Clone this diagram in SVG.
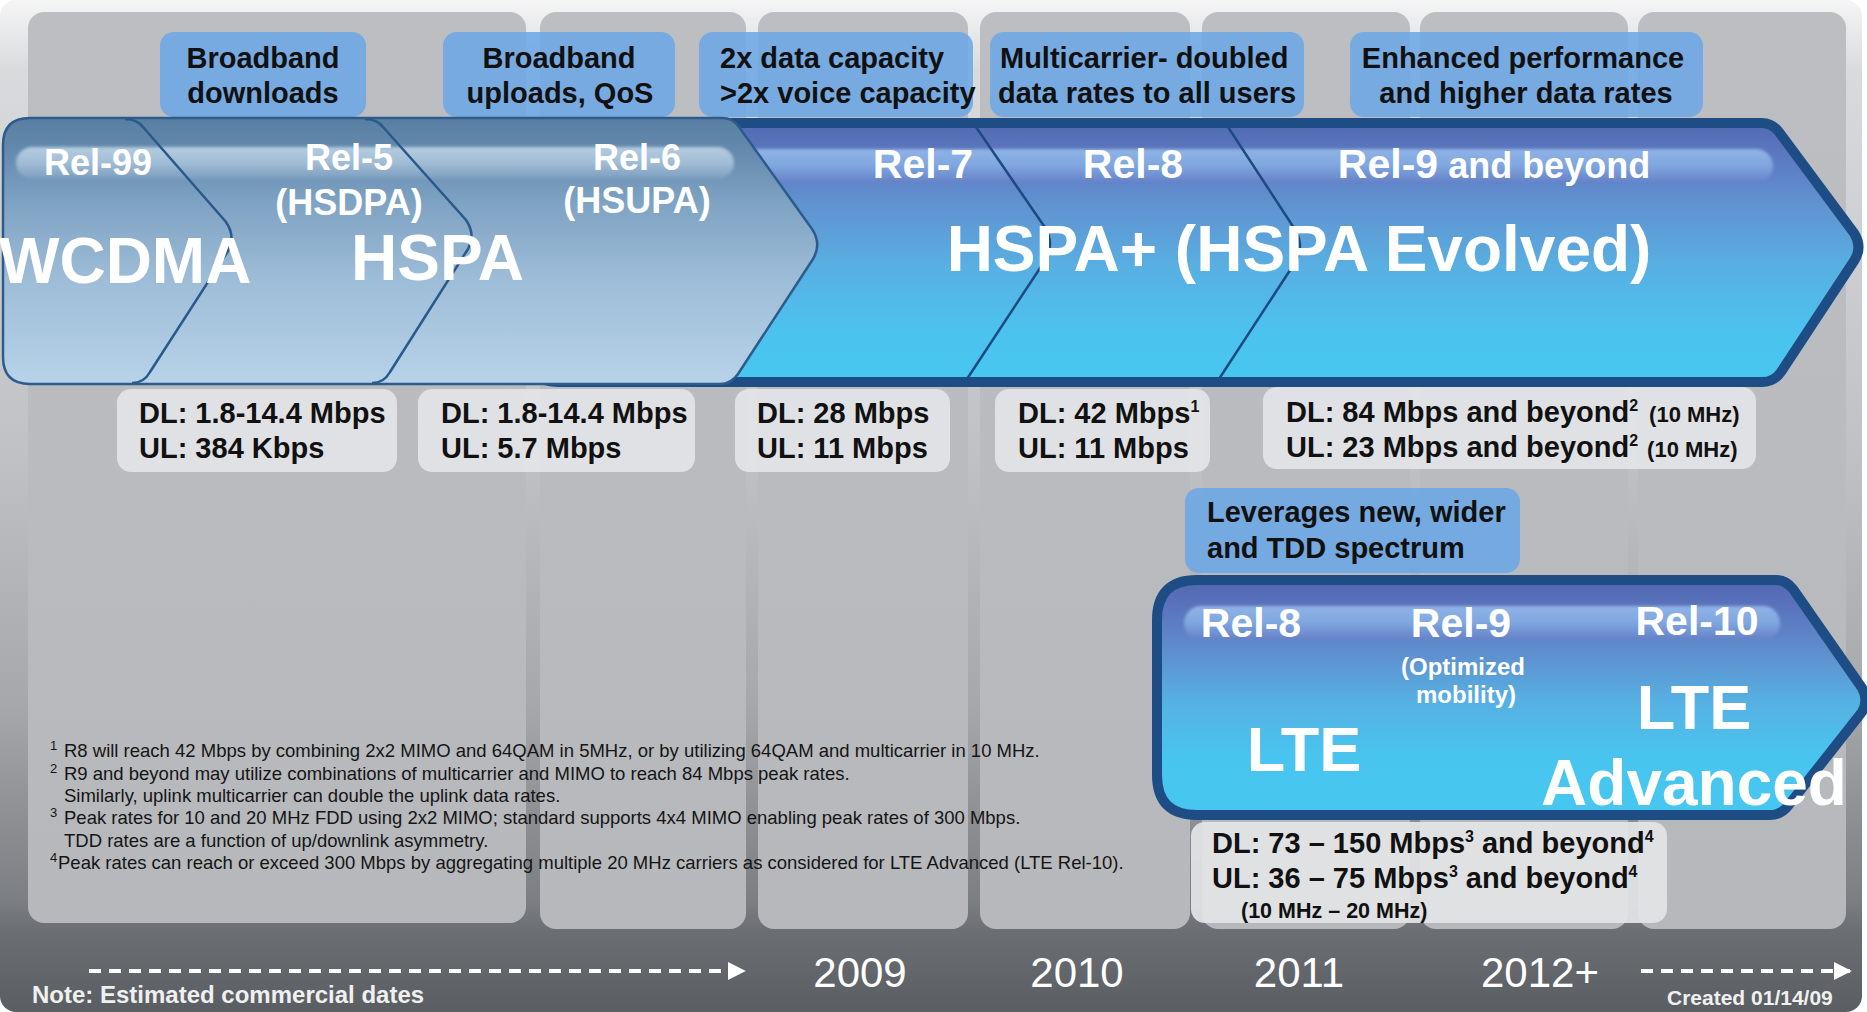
<svg xmlns="http://www.w3.org/2000/svg" width="1867" height="1012" viewBox="0 0 1867 1012">
  <defs>
    <style>
      text { font-family: "Liberation Sans", Arial, sans-serif; }
      .call { font-size: 29px; font-weight: bold; fill: #111; }
      .mid { text-anchor: middle; }
      .rate { font-size: 29px; font-weight: bold; fill: #111; }
      .rel { font-size: 36px; font-weight: bold; fill: #fff; text-anchor: middle; }
      .relb { font-size: 41px; font-weight: bold; fill: #fff; text-anchor: middle; }
      .big { font-size: 64px; font-weight: bold; fill: #fff; }
      .note { font-size: 18.5px; fill: #151515; }
      .sup { font-size: 13px; fill: #151515; }
      .year { font-size: 42px; fill: #fff; text-anchor: middle; }
      .callout { fill: #6aa6e6; fill-opacity: 0.86; }
      .databox { fill: #e3e4e6; fill-opacity: 0.93; }
      .panel { fill: url(#gPanel); }
      .divider { fill: none; stroke: #1d4a80; stroke-width: 2.5; }
      .ldivider { fill: none; stroke: #2a5a8c; stroke-width: 2.5; }
      .dash { stroke: #fff; stroke-width: 4; stroke-dasharray: 12 8; fill: none; }
    </style>
    <linearGradient id="gBack" x1="0" y1="0" x2="0" y2="1">
      <stop offset="0" stop-color="#f5f5f6"/>
      <stop offset="0.07" stop-color="#d9dadc"/>
      <stop offset="0.45" stop-color="#bfc1c4"/>
      <stop offset="0.7" stop-color="#a5a7aa"/>
      <stop offset="0.89" stop-color="#7b7e82"/>
      <stop offset="0.92" stop-color="#6b6e72"/>
      <stop offset="1" stop-color="#5a5d61"/>
    </linearGradient>
    <linearGradient id="gPanel" x1="0" y1="0" x2="0" y2="1">
      <stop offset="0" stop-color="#bcbec1"/>
      <stop offset="1" stop-color="#b6b8bb"/>
    </linearGradient>
    <linearGradient id="gLight" gradientUnits="userSpaceOnUse" x1="0" y1="118" x2="0" y2="385">
      <stop offset="0" stop-color="#587fa3"/>
      <stop offset="0.12" stop-color="#6489ad"/>
      <stop offset="0.32" stop-color="#7fa3c3"/>
      <stop offset="0.6" stop-color="#9dbcd7"/>
      <stop offset="1" stop-color="#b8d3e9"/>
    </linearGradient>
    <linearGradient id="gPlus" gradientUnits="userSpaceOnUse" x1="0" y1="118" x2="0" y2="387">
      <stop offset="0" stop-color="#4f68b0"/>
      <stop offset="0.12" stop-color="#5b76bd"/>
      <stop offset="0.32" stop-color="#6192d0"/>
      <stop offset="0.55" stop-color="#58afe2"/>
      <stop offset="0.8" stop-color="#4bc3ee"/>
      <stop offset="1" stop-color="#46c7f0"/>
    </linearGradient>
    <linearGradient id="gLte" gradientUnits="userSpaceOnUse" x1="0" y1="575" x2="0" y2="820">
      <stop offset="0" stop-color="#4f66ae"/>
      <stop offset="0.12" stop-color="#5a72bb"/>
      <stop offset="0.3" stop-color="#5f8ccd"/>
      <stop offset="0.52" stop-color="#56b1e3"/>
      <stop offset="0.75" stop-color="#48c5ef"/>
      <stop offset="1" stop-color="#46c7f0"/>
    </linearGradient>
    <linearGradient id="gBandLight" x1="0" y1="0" x2="0" y2="1">
      <stop offset="0" stop-color="#b4cce0"/>
      <stop offset="0.5" stop-color="#a0bcd5"/>
      <stop offset="1" stop-color="#7b9dbe"/>
    </linearGradient>
    <linearGradient id="gBandBlue" x1="0" y1="0" x2="0" y2="1">
      <stop offset="0" stop-color="#8fb3e6"/>
      <stop offset="0.5" stop-color="#7ea6df"/>
      <stop offset="1" stop-color="#6480c6"/>
    </linearGradient>
    <filter id="soft" x="-5%" y="-30%" width="110%" height="160%">
      <feGaussianBlur stdDeviation="1.6"/>
    </filter>
    <marker id="head" viewBox="0 0 10 10" refX="9" refY="5" markerWidth="4.5" markerHeight="5" orient="auto" markerUnits="strokeWidth">
      <path d="M0,0 L10,5 L0,10 Z" fill="#fff"/>
    </marker>
  </defs>

  <!-- backdrop and year columns -->
  <g id="backdrop">
    <rect x="0" y="0" width="1867" height="1012" fill="#ffffff"/>
    <rect x="0" y="0" width="1862" height="1012" rx="16" fill="url(#gBack)"/>
    <rect class="panel" x="28" y="12" width="498" height="911" rx="16"/>
    <rect class="panel" x="540" y="12" width="206" height="917" rx="16"/>
    <rect class="panel" x="758" y="12" width="210" height="917" rx="16"/>
    <rect class="panel" x="980" y="12" width="210" height="917" rx="16"/>
    <rect class="panel" x="1202" y="12" width="208" height="917" rx="16"/>
    <rect class="panel" x="1420" y="12" width="208" height="917" rx="16"/>
    <rect class="panel" x="1638" y="12" width="208" height="917" rx="16"/>
  </g>

  <!-- feature callouts above the release band -->
  <g id="callout-downloads">
    <rect class="callout" x="160" y="32" width="206" height="85" rx="14"/>
    <text class="call mid" x="263" y="68">Broadband</text>
    <text class="call mid" x="263" y="103">downloads</text>
  </g>
  <g id="callout-uploads">
    <rect class="callout" x="443" y="32" width="232" height="85" rx="14"/>
    <text class="call mid" x="559" y="68">Broadband</text>
    <text class="call mid" x="560" y="103">uploads, QoS</text>
  </g>
  <g id="callout-capacity">
    <rect class="callout" x="699" y="32" width="274" height="85" rx="14"/>
    <text class="call" x="720" y="68">2x data capacity</text>
    <text class="call" x="720" y="103">&gt;2x voice capacity</text>
  </g>
  <g id="callout-multicarrier">
    <rect class="callout" x="990" y="32" width="314" height="85" rx="14"/>
    <text class="call" x="1000" y="68">Multicarrier- doubled</text>
    <text class="call" x="998" y="103">data rates to all users</text>
  </g>
  <g id="callout-enhanced">
    <rect class="callout" x="1350" y="32" width="353" height="85" rx="14"/>
    <text class="call mid" x="1523" y="68">Enhanced performance</text>
    <text class="call mid" x="1526" y="103">and higher data rates</text>
  </g>

  <!-- HSPA+ band (Rel-7 / Rel-8 / Rel-9 and beyond) -->
  <g id="hspa-plus">
    <path d="M560,123 L1762,123 Q1772,123 1779,132 L1854,233 Q1863,247 1854,261 L1781,372 Q1774,382 1762,382 L560,382 Q520,382 520,342 L520,163 Q520,123 560,123 Z" fill="url(#gPlus)" stroke="#1e4d86" stroke-width="10"/>
    <rect x="700" y="149" width="1073" height="34" rx="17" fill="url(#gBandBlue)" filter="url(#soft)"/>
    <path class="divider" d="M976,127 L1046,229 Q1054,244 1046,259 L967,379"/>
    <path class="divider" d="M1228,127 L1296,231 Q1304,246 1296,261 L1219,379"/>
    <text class="relb" x="923" y="178">Rel-7</text>
    <text class="relb" x="1133" y="178">Rel-8</text>
    <text class="relb" x="1494" y="178">Rel-9<tspan style="font-size:36px"> and beyond</tspan></text>
    <text class="big mid" x="1299" y="271">HSPA+ (HSPA Evolved)</text>
  </g>

  <!-- WCDMA / HSPA band (Rel-99 / Rel-5 / Rel-6) -->
  <g id="hspa">
    <path d="M30,118 L722,118 Q733,118 739,127 L812,229 Q822,244 813,259 L738,374 Q731,384 720,384 L30,384 Q3,384 3,357 L3,145 Q3,118 30,118 Z" fill="url(#gLight)" stroke="#2d5c8c" stroke-width="2.5"/>
    <rect x="16" y="147" width="718" height="32" rx="16" fill="url(#gBandLight)" filter="url(#soft)"/>
    <path class="ldivider" d="M125,119 Q137,119 143,127 L226,222 Q236,237 228,251 L150,372 Q144,383 132,383"/>
    <path class="ldivider" d="M365,119 Q377,119 383,127 L466,220 Q476,235 468,249 L390,372 Q384,383 372,383"/>
    <text class="rel" x="98" y="175">Rel-99</text>
    <text class="rel" x="349" y="170">Rel-5</text>
    <text class="rel" x="349" y="215">(HSDPA)</text>
    <text class="rel" x="637" y="170">Rel-6</text>
    <text class="rel" x="637" y="213">(HSUPA)</text>
    <text class="big" x="-1" y="283">WCDMA</text>
    <text class="big" x="351" y="280">HSPA</text>
  </g>

  <!-- peak rates per release -->
  <g id="rates-rel5">
    <rect class="databox" x="117" y="389" width="280" height="83" rx="14"/>
    <text class="rate" x="139" y="423">DL: 1.8-14.4 Mbps</text>
    <text class="rate" x="139" y="458">UL: 384 Kbps</text>
  </g>
  <g id="rates-rel6">
    <rect class="databox" x="418" y="389" width="277" height="83" rx="14"/>
    <text class="rate" x="441" y="423">DL: 1.8-14.4 Mbps</text>
    <text class="rate" x="441" y="458">UL: 5.7 Mbps</text>
  </g>
  <g id="rates-rel7">
    <rect class="databox" x="735" y="389" width="215" height="83" rx="14"/>
    <text class="rate" x="757" y="423">DL: 28 Mbps</text>
    <text class="rate" x="757" y="458">UL: 11 Mbps</text>
  </g>
  <g id="rates-rel8">
    <rect class="databox" x="995" y="389" width="215" height="83" rx="14"/>
    <text class="rate" x="1018" y="423">DL: 42 Mbps<tspan style="font-size:16px" dy="-11">1</tspan></text>
    <text class="rate" x="1018" y="458">UL: 11 Mbps</text>
  </g>
  <g id="rates-rel9">
    <rect class="databox" x="1263" y="387" width="493" height="82" rx="14"/>
    <text class="rate" x="1286" y="422">DL: 84 Mbps and beyond<tspan style="font-size:16px" dy="-11">2</tspan><tspan style="font-size:22px" dy="11" dx="11">(10 MHz)</tspan></text>
    <text class="rate" x="1286" y="457">UL: 23 Mbps and beyond<tspan style="font-size:16px" dy="-11">2</tspan><tspan style="font-size:22px" dy="11" dx="9">(10 MHz)</tspan></text>
  </g>

  <!-- LTE band -->
  <g id="callout-spectrum">
    <rect class="callout" x="1185" y="488" width="335" height="85" rx="14"/>
    <text class="call" x="1207" y="522">Leverages new, wider</text>
    <text class="call" x="1207" y="558">and TDD spectrum</text>
  </g>
  <g id="lte">
    <path d="M1197,580 L1776,580 Q1786,580 1793,589 L1862,688 Q1869,700 1862,712 L1788,806 Q1781,815 1770,815 L1197,815 Q1157,815 1157,775 L1157,620 Q1157,580 1197,580 Z" fill="url(#gLte)" stroke="#1e4d86" stroke-width="10"/>
    <rect x="1184" y="606" width="596" height="34" rx="17" fill="url(#gBandBlue)" filter="url(#soft)"/>
    <text class="relb" x="1251" y="637">Rel-8</text>
    <text class="relb" x="1461" y="637">Rel-9</text>
    <text class="relb" x="1697" y="635">Rel-10</text>
    <text class="mid" x="1463" y="675" style="font-size:24px; font-weight:bold; fill:#fff">(Optimized</text>
    <text class="mid" x="1466" y="703" style="font-size:24px; font-weight:bold; fill:#fff">mobility)</text>
    <text class="big mid" x="1304" y="771" style="font-size:63px">LTE</text>
    <text class="big mid" x="1694" y="729" style="font-size:63px">LTE</text>
    <text class="big mid" x="1694" y="805">Advanced</text>
  </g>
  <g id="rates-lte">
    <rect class="databox" x="1191" y="822" width="476" height="101" rx="14"/>
    <text class="rate" x="1212" y="853">DL: 73 – 150 Mbps<tspan style="font-size:16px" dy="-11">3</tspan><tspan dy="11"> and beyond</tspan><tspan style="font-size:16px" dy="-11">4</tspan></text>
    <text class="rate" x="1212" y="888">UL: 36 – 75 Mbps<tspan style="font-size:16px" dy="-11">3</tspan><tspan dy="11"> and beyond</tspan><tspan style="font-size:16px" dy="-11">4</tspan></text>
    <text class="rate" x="1241" y="918" style="font-size:21.5px">(10 MHz – 20 MHz)</text>
  </g>

  <!-- footnotes -->
  <g id="footnotes">
    <text class="sup" x="50" y="750">1</text>
    <text class="note" x="64" y="757">R8 will reach 42 Mbps by combining 2x2 MIMO and 64QAM in 5MHz, or by utilizing 64QAM and multicarrier in 10 MHz.</text>
    <text class="sup" x="50" y="773">2</text>
    <text class="note" x="64" y="780">R9 and beyond may utilize combinations of multicarrier and MIMO to reach 84 Mbps peak rates.</text>
    <text class="note" x="64" y="802">Similarly, uplink multicarrier can double the uplink data rates.</text>
    <text class="sup" x="50" y="817">3</text>
    <text class="note" x="64" y="824">Peak rates for 10 and 20 MHz FDD using 2x2 MIMO; standard supports 4x4 MIMO enabling peak rates of 300 Mbps.</text>
    <text class="note" x="64" y="847">TDD rates are a function of up/downlink asymmetry.</text>
    <text class="sup" x="50" y="862">4</text>
    <text class="note" x="58" y="869">Peak rates can reach or exceed 300 Mbps by aggregating multiple 20 MHz carriers as considered for LTE Advanced (LTE Rel-10).</text>
  </g>

  <!-- timeline -->
  <g id="connectors">
    <line class="dash" x1="89" y1="971" x2="744" y2="971" marker-end="url(#head)"/>
    <line class="dash" x1="1641" y1="971" x2="1850" y2="971" marker-end="url(#head)"/>
  </g>
  <g id="timeline">
    <text class="year" x="860" y="987">2009</text>
    <text class="year" x="1077" y="987">2010</text>
    <text class="year" x="1299" y="987">2011</text>
    <text class="year" x="1540" y="987">2012+</text>
    <text x="32" y="1003" style="font-size:24px; font-weight:bold; fill:#f0f0f0">Note: Estimated commercial dates</text>
    <text x="1667" y="1005" style="font-size:21px; font-weight:bold; fill:#f0f0f0">Created 01/14/09</text>
  </g>
</svg>
